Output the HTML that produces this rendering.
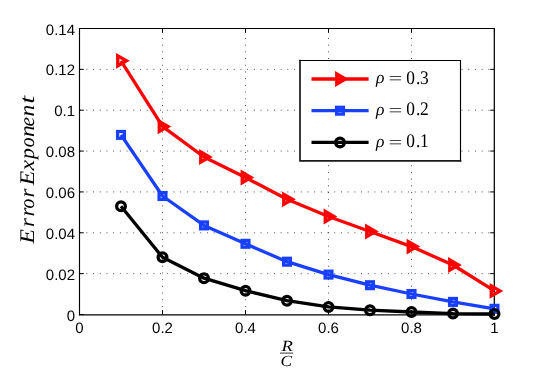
<!DOCTYPE html><html><head><meta charset="utf-8"><style>html,body{margin:0;padding:0;background:#fff}svg{display:block;will-change:transform;text-rendering:geometricPrecision}</style></head><body><svg width="545" height="381" viewBox="0 0 545 381">
<rect width="545" height="381" fill="#fff"/>
<g stroke="#000" stroke-width="0.75" stroke-dasharray="0.9 5.8" fill="none"><line x1="162.5" y1="313.6" x2="162.5" y2="28.5"/><line x1="245.5" y1="313.6" x2="245.5" y2="28.5"/><line x1="328.5" y1="313.6" x2="328.5" y2="28.5"/><line x1="411.5" y1="313.6" x2="411.5" y2="28.5"/><line x1="79.7" y1="273.64" x2="494.5" y2="273.64"/><line x1="79.7" y1="232.79" x2="494.5" y2="232.79"/><line x1="79.7" y1="191.93" x2="494.5" y2="191.93"/><line x1="79.7" y1="151.07" x2="494.5" y2="151.07"/><line x1="79.7" y1="110.21" x2="494.5" y2="110.21"/><line x1="79.7" y1="69.36" x2="494.5" y2="69.36"/></g>
<g stroke="#000" fill="none" stroke-linecap="square"><path d="M79.5 314.7L79.5 28.5L494.3 28.5" stroke-width="1.15"/><path d="M79.5 314.9L494.3 314.9" stroke-width="1.15"/><path d="M494.3 314.9L494.3 28.5" stroke-width="1.25"/></g>
<g stroke="#000" stroke-width="1"><line x1="79.5" y1="314.5" x2="79.5" y2="310.2"/><line x1="79.5" y1="28.5" x2="79.5" y2="32.8"/><line x1="162.5" y1="314.5" x2="162.5" y2="310.2"/><line x1="162.5" y1="28.5" x2="162.5" y2="32.8"/><line x1="245.5" y1="314.5" x2="245.5" y2="310.2"/><line x1="245.5" y1="28.5" x2="245.5" y2="32.8"/><line x1="328.5" y1="314.5" x2="328.5" y2="310.2"/><line x1="328.5" y1="28.5" x2="328.5" y2="32.8"/><line x1="411.5" y1="314.5" x2="411.5" y2="310.2"/><line x1="411.5" y1="28.5" x2="411.5" y2="32.8"/><line x1="494.5" y1="314.5" x2="494.5" y2="310.2"/><line x1="494.5" y1="28.5" x2="494.5" y2="32.8"/><line x1="79.5" y1="314.50" x2="83.8" y2="314.50"/><line x1="494.5" y1="314.50" x2="490.2" y2="314.50"/><line x1="79.5" y1="273.64" x2="83.8" y2="273.64"/><line x1="494.5" y1="273.64" x2="490.2" y2="273.64"/><line x1="79.5" y1="232.79" x2="83.8" y2="232.79"/><line x1="494.5" y1="232.79" x2="490.2" y2="232.79"/><line x1="79.5" y1="191.93" x2="83.8" y2="191.93"/><line x1="494.5" y1="191.93" x2="490.2" y2="191.93"/><line x1="79.5" y1="151.07" x2="83.8" y2="151.07"/><line x1="494.5" y1="151.07" x2="490.2" y2="151.07"/><line x1="79.5" y1="110.21" x2="83.8" y2="110.21"/><line x1="494.5" y1="110.21" x2="490.2" y2="110.21"/><line x1="79.5" y1="69.36" x2="83.8" y2="69.36"/><line x1="494.5" y1="69.36" x2="490.2" y2="69.36"/><line x1="79.5" y1="28.50" x2="83.8" y2="28.50"/><line x1="494.5" y1="28.50" x2="490.2" y2="28.50"/></g>
<g font-family="'Liberation Sans', sans-serif" font-size="15" fill="#000"><text x="79.50" y="333.1" text-anchor="middle">0</text><text x="162.50" y="333.1" text-anchor="middle">0.2</text><text x="245.50" y="333.1" text-anchor="middle">0.4</text><text x="328.50" y="333.1" text-anchor="middle">0.6</text><text x="411.50" y="333.1" text-anchor="middle">0.8</text><text x="494.50" y="333.1" text-anchor="middle">1</text><text x="75" y="320.60" text-anchor="end">0</text><text x="75" y="279.74" text-anchor="end">0.02</text><text x="75" y="238.89" text-anchor="end">0.04</text><text x="75" y="198.03" text-anchor="end">0.06</text><text x="75" y="157.17" text-anchor="end">0.08</text><text x="75" y="116.31" text-anchor="end">0.1</text><text x="75" y="75.46" text-anchor="end">0.12</text><text x="75" y="34.60" text-anchor="end">0.14</text></g>
<path d="M121.00 60.80L162.50 126.40L204.00 157.00L245.50 177.50L287.00 199.30L328.50 216.50L370.00 231.50L411.50 246.60L453.00 265.00L494.50 290.90" fill="none" stroke="#ff0000" stroke-width="3.3" stroke-linejoin="round"/><path d="M117.75 55.75L117.75 65.85L126.50 60.80Z" fill="none" stroke="#ff0000" stroke-width="3.3" stroke-linejoin="miter"/><path d="M159.25 121.35L159.25 131.45L168.00 126.40Z" fill="none" stroke="#ff0000" stroke-width="3.3" stroke-linejoin="miter"/><path d="M200.75 151.95L200.75 162.05L209.50 157.00Z" fill="none" stroke="#ff0000" stroke-width="3.3" stroke-linejoin="miter"/><path d="M242.25 172.45L242.25 182.55L251.00 177.50Z" fill="none" stroke="#ff0000" stroke-width="3.3" stroke-linejoin="miter"/><path d="M283.75 194.25L283.75 204.35L292.50 199.30Z" fill="none" stroke="#ff0000" stroke-width="3.3" stroke-linejoin="miter"/><path d="M325.25 211.45L325.25 221.55L334.00 216.50Z" fill="none" stroke="#ff0000" stroke-width="3.3" stroke-linejoin="miter"/><path d="M366.75 226.45L366.75 236.55L375.50 231.50Z" fill="none" stroke="#ff0000" stroke-width="3.3" stroke-linejoin="miter"/><path d="M408.25 241.55L408.25 251.65L417.00 246.60Z" fill="none" stroke="#ff0000" stroke-width="3.3" stroke-linejoin="miter"/><path d="M449.75 259.95L449.75 270.05L458.50 265.00Z" fill="none" stroke="#ff0000" stroke-width="3.3" stroke-linejoin="miter"/><path d="M491.25 285.85L491.25 295.95L500.00 290.90Z" fill="none" stroke="#ff0000" stroke-width="3.3" stroke-linejoin="miter"/>
<path d="M121.00 134.90L162.50 196.00L204.00 225.40L245.50 243.80L287.00 261.70L328.50 274.60L370.00 285.20L411.50 294.00L453.00 301.90L494.50 308.80" fill="none" stroke="#1a40ff" stroke-width="3.3" stroke-linejoin="round"/><rect x="117.60" y="131.50" width="6.8" height="6.8" fill="none" stroke="#1a40ff" stroke-width="3.3"/><rect x="159.10" y="192.60" width="6.8" height="6.8" fill="none" stroke="#1a40ff" stroke-width="3.3"/><rect x="200.60" y="222.00" width="6.8" height="6.8" fill="none" stroke="#1a40ff" stroke-width="3.3"/><rect x="242.10" y="240.40" width="6.8" height="6.8" fill="none" stroke="#1a40ff" stroke-width="3.3"/><rect x="283.60" y="258.30" width="6.8" height="6.8" fill="none" stroke="#1a40ff" stroke-width="3.3"/><rect x="325.10" y="271.20" width="6.8" height="6.8" fill="none" stroke="#1a40ff" stroke-width="3.3"/><rect x="366.60" y="281.80" width="6.8" height="6.8" fill="none" stroke="#1a40ff" stroke-width="3.3"/><rect x="408.10" y="290.60" width="6.8" height="6.8" fill="none" stroke="#1a40ff" stroke-width="3.3"/><rect x="449.60" y="298.50" width="6.8" height="6.8" fill="none" stroke="#1a40ff" stroke-width="3.3"/><rect x="491.10" y="305.40" width="6.8" height="6.8" fill="none" stroke="#1a40ff" stroke-width="3.3"/>
<path d="M121.00 206.20L162.50 257.30L204.00 278.20L245.50 290.70L287.00 300.70L328.50 306.90L370.00 310.20L411.50 312.00L453.00 313.60L494.50 314.00" fill="none" stroke="#000000" stroke-width="3.3" stroke-linejoin="round"/><circle cx="121.00" cy="206.20" r="4.35" fill="none" stroke="#000000" stroke-width="3.3"/><circle cx="162.50" cy="257.30" r="4.35" fill="none" stroke="#000000" stroke-width="3.3"/><circle cx="204.00" cy="278.20" r="4.35" fill="none" stroke="#000000" stroke-width="3.3"/><circle cx="245.50" cy="290.70" r="4.35" fill="none" stroke="#000000" stroke-width="3.3"/><circle cx="287.00" cy="300.70" r="4.35" fill="none" stroke="#000000" stroke-width="3.3"/><circle cx="328.50" cy="306.90" r="4.35" fill="none" stroke="#000000" stroke-width="3.3"/><circle cx="370.00" cy="310.20" r="4.35" fill="none" stroke="#000000" stroke-width="3.3"/><circle cx="411.50" cy="312.00" r="4.35" fill="none" stroke="#000000" stroke-width="3.3"/><circle cx="453.00" cy="313.60" r="4.35" fill="none" stroke="#000000" stroke-width="3.3"/><circle cx="494.50" cy="314.00" r="4.35" fill="none" stroke="#000000" stroke-width="3.3"/>
<rect x="300" y="60.5" width="160.5" height="100.3" fill="#fff"/>
<g stroke="#000" fill="none" stroke-linecap="square"><path d="M300 60.5L460.5 60.5L460.5 160.8" stroke-width="1.15"/><path d="M300 60.5L300 160.8L460.5 160.8" stroke-width="1.7" stroke="#1a1a1a"/></g>
<line x1="311.5" y1="79.0" x2="368.6" y2="79.0" stroke="#ff0000" stroke-width="3.3"/>
<path d="M336.75 73.95L336.75 84.05L345.50 79.00Z" fill="none" stroke="#ff0000" stroke-width="3.3" stroke-linejoin="miter"/>
<g font-family="'Liberation Serif', serif" fill="#000"><text x="375.9" y="83.4" font-size="17.6" font-style="italic">ρ</text><text x="388.5" y="84.2" font-size="17.6" textLength="13.8" lengthAdjust="spacingAndGlyphs">=</text><g transform="translate(0 83.7) scale(0.9 1)" font-size="19.3"><text x="451.44" y="0">0</text><text x="462.11" y="0">.</text><text x="466.78" y="0">3</text></g></g>
<line x1="311.5" y1="110.7" x2="368.6" y2="110.7" stroke="#1a40ff" stroke-width="3.3"/>
<rect x="336.60" y="107.30" width="6.8" height="6.8" fill="none" stroke="#1a40ff" stroke-width="3.3"/>
<g font-family="'Liberation Serif', serif" fill="#000"><text x="375.9" y="115.10000000000001" font-size="17.6" font-style="italic">ρ</text><text x="388.5" y="115.9" font-size="17.6" textLength="13.8" lengthAdjust="spacingAndGlyphs">=</text><g transform="translate(0 115.4) scale(0.9 1)" font-size="19.3"><text x="451.44" y="0">0</text><text x="462.11" y="0">.</text><text x="466.78" y="0">2</text></g></g>
<line x1="311.5" y1="142.4" x2="368.6" y2="142.4" stroke="#000000" stroke-width="3.3"/>
<circle cx="340.00" cy="142.40" r="4.35" fill="none" stroke="#000000" stroke-width="3.3"/>
<g font-family="'Liberation Serif', serif" fill="#000"><text x="375.9" y="146.79999999999998" font-size="17.6" font-style="italic">ρ</text><text x="388.5" y="147.6" font-size="17.6" textLength="13.8" lengthAdjust="spacingAndGlyphs">=</text><g transform="translate(0 147.1) scale(0.9 1)" font-size="19.3"><text x="451.44" y="0">0</text><text x="462.11" y="0">.</text><text x="466.78" y="0">1</text></g></g>
<g transform="translate(34.2 243.6) rotate(-90)" font-family="'Liberation Serif', serif" font-style="italic" font-size="20.8" fill="#000"><text x="0.00" y="0" textLength="14.50" lengthAdjust="spacingAndGlyphs">E</text><text x="16.60" y="0" textLength="9.00" lengthAdjust="spacingAndGlyphs">r</text><text x="27.00" y="0" textLength="9.00" lengthAdjust="spacingAndGlyphs">r</text><text x="35.20" y="0" textLength="9.80" lengthAdjust="spacingAndGlyphs">o</text><text x="46.20" y="0" textLength="9.00" lengthAdjust="spacingAndGlyphs">r</text><text x="58.40" y="0" textLength="14.50" lengthAdjust="spacingAndGlyphs">E</text><text x="73.00" y="0" textLength="10.60" lengthAdjust="spacingAndGlyphs">x</text><text x="84.60" y="0" textLength="10.80" lengthAdjust="spacingAndGlyphs">p</text><text x="96.40" y="0" textLength="9.80" lengthAdjust="spacingAndGlyphs">o</text><text x="106.60" y="0" textLength="11.80" lengthAdjust="spacingAndGlyphs">n</text><text x="117.20" y="0" textLength="9.60" lengthAdjust="spacingAndGlyphs">e</text><text x="127.00" y="0" textLength="11.80" lengthAdjust="spacingAndGlyphs">n</text><text x="139.90" y="0" textLength="8.00" lengthAdjust="spacingAndGlyphs">t</text></g>
<g font-family="'Liberation Serif', serif" font-style="italic" font-size="15.5" fill="#000"><text x="281.4" y="350.5" textLength="11.4" lengthAdjust="spacingAndGlyphs">R</text><text x="280.6" y="365.8" textLength="11.6" lengthAdjust="spacingAndGlyphs">C</text></g>
<line x1="280" y1="353.1" x2="293.2" y2="353.1" stroke="#000" stroke-width="0.8"/>
</svg></body></html>
